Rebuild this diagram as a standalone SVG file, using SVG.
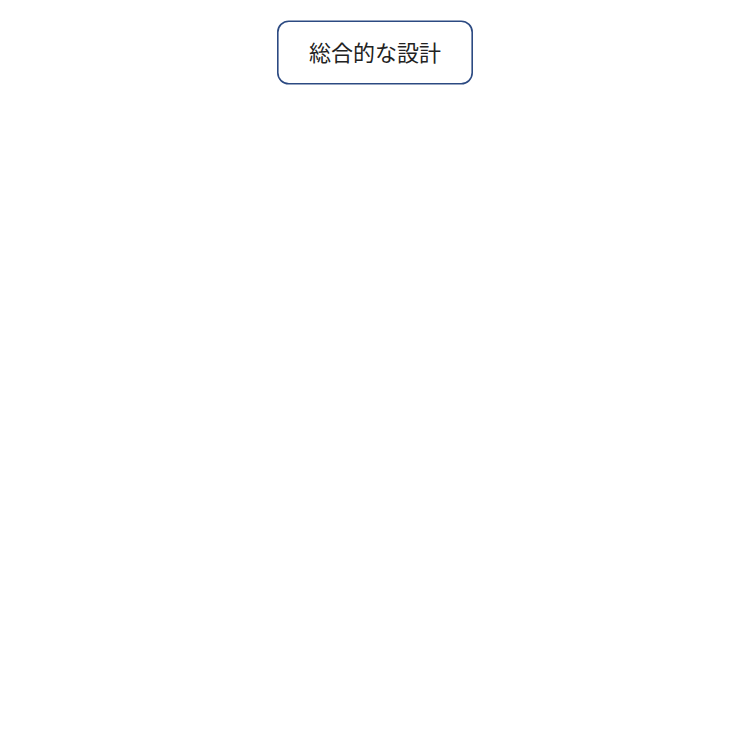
<svg xmlns="http://www.w3.org/2000/svg" width="750" height="739" viewBox="0 0 750 739">
<style>
.node rect{fill:#ffffff;stroke:#2c4a82;stroke-width:1.6}
.node text{font-family:"Noto Sans CJK JP","Noto Sans CJK SC",sans-serif;font-size:22px;font-weight:400;fill:#222222;text-anchor:middle;dominant-baseline:central}
</style>
<rect width="750" height="739" fill="#ffffff"/>
<g id="connectors"></g>
<g id="node-design" class="node">
<rect x="277.8" y="21.2" width="194.4" height="62.6" rx="11" ry="11"/>
<text x="375" y="51">総合的な設計</text>
</g>
</svg>
